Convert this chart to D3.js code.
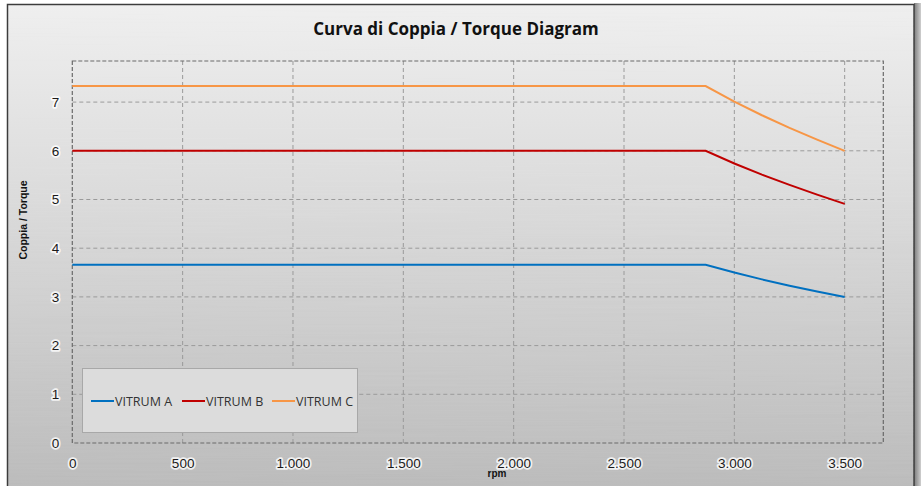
<!DOCTYPE html>
<html>
<head>
<meta charset="utf-8">
<script src="https://cdn.jsdelivr.net/npm/d3@7"></script>
<style>
  html, body { margin: 0; padding: 0; background: #fff; }
  svg { display: block; }
  .tick-label { font-family: "Liberation Sans", Arial, sans-serif; font-size: 13.5px; fill: #1a1a1a;
    paint-order: stroke; stroke: #fff; stroke-width: 3.5px; stroke-opacity: 0.8; stroke-linejoin: round; }
</style>
</head>
<body>
<svg id="chart"></svg>
<script>
// data
const rpm = [0, 2870, 3000, 3125, 3250, 3375, 3500];
const vitrumA = [3.66, 3.66, 3.50, 3.36, 3.23, 3.11, 3.00];
const vitrumB = [6.00, 6.00, 5.74, 5.51, 5.30, 5.10, 4.91];
const vitrumC = [7.33, 7.33, 7.01, 6.73, 6.47, 6.23, 6.00];
const seriesNames = ["VITRUM A", "VITRUM B", "VITRUM C"];
const seriesColors = ["#0070c0", "#c00000", "#f79646"];
const xTicks = [0, 500, 1000, 1500, 2000, 2500, 3000, 3500];
const yTicks = [0, 1, 2, 3, 4, 5, 6, 7];

const width = 921;
const height = 486;
const plot = { left: 72.3, right: 883.3, top: 61, bottom: 443 };

const svg = d3.select("#chart")
  .attr("width", width)
  .attr("height", height);

const defs = svg.append("defs");
const bg = defs.append("linearGradient")
  .attr("id", "bg").attr("x1", 0).attr("y1", 0).attr("x2", 0).attr("y2", 1);
bg.append("stop").attr("offset", "0%").attr("stop-color", "#eeeeee");
bg.append("stop").attr("offset", "40%").attr("stop-color", "#dadada");
bg.append("stop").attr("offset", "100%").attr("stop-color", "#b9b9b9");

const shade = defs.append("linearGradient")
  .attr("id", "shade").attr("x1", 0).attr("y1", 0).attr("x2", 1).attr("y2", 0);
shade.append("stop").attr("offset", "0%").attr("stop-color", "#7a7a7a");
shade.append("stop").attr("offset", "100%").attr("stop-color", "#cfcfcf");

// brushed metal streaks
const noise = defs.append("filter").attr("id", "brush")
  .attr("x", 0).attr("y", 0).attr("width", 1).attr("height", 1);
noise.append("feTurbulence").attr("type", "fractalNoise")
  .attr("baseFrequency", "0.004 0.6").attr("numOctaves", 2).attr("seed", 4).attr("result", "n");
noise.append("feColorMatrix").attr("type", "matrix")
  .attr("values", "0 0 0 0 1  0 0 0 0 1  0 0 0 0 1  0 0 0 0.07 0").attr("in", "n");

// frame
svg.append("rect")
  .attr("x", 914).attr("y", 3).attr("width", 7).attr("height", height)
  .attr("fill", "url(#shade)");
svg.append("rect")
  .attr("x", 7.5).attr("y", 4.5).attr("width", 906.5).attr("height", height)
  .attr("fill", "url(#bg)")
  .attr("stroke", "#3c3c3c").attr("stroke-width", 1.5);
svg.append("rect")
  .attr("x", 8.5).attr("y", 5.5).attr("width", 905).attr("height", height)
  .attr("filter", "url(#brush)").attr("fill", "#fff");

const x = d3.scaleLinear()
  .domain([0, 3675])
  .range([plot.left, plot.right]);

const y = d3.scaleLinear()
  .domain([0, 7.844])
  .range([plot.bottom, plot.top]);

const fmt = v => d3.format(",")(v).replace(/,/g, ".");

// grid
const grid = svg.append("g").attr("stroke", "#9a9a9a").attr("stroke-dasharray", "4,3").attr("stroke-width", 1);
grid.selectAll(".gx")
  .data(xTicks.filter(d => d > 0))
  .enter().append("line")
  .attr("x1", d => x(d)).attr("x2", d => x(d))
  .attr("y1", plot.top).attr("y2", plot.bottom);
grid.selectAll(".gy")
  .data(yTicks.filter(d => d > 0))
  .enter().append("line")
  .attr("x1", plot.left).attr("x2", plot.right)
  .attr("y1", d => y(d)).attr("y2", d => y(d));

svg.append("rect")
  .attr("x", plot.left).attr("y", plot.top)
  .attr("width", plot.right - plot.left).attr("height", plot.bottom - plot.top)
  .attr("fill", "none").attr("stroke", "#6a6a6a").attr("stroke-width", 1.2)
  .attr("stroke-dasharray", "4,2");

// axes (labels only, lines are the grid/border)
const xAxis = svg.append("g")
  .attr("transform", `translate(0,${plot.bottom})`)
  .call(d3.axisBottom(x).tickValues(xTicks).tickFormat(fmt).tickSize(0).tickPadding(15));
xAxis.select(".domain").remove();
xAxis.selectAll("text").attr("class", "tick-label").attr("font-family", null).attr("font-size", null).attr("fill", null);

const yAxis = svg.append("g")
  .attr("transform", `translate(${plot.left},0)`)
  .call(d3.axisLeft(y).tickValues(yTicks).tickFormat(d3.format("d")).tickSize(0).tickPadding(13));
yAxis.select(".domain").remove();
yAxis.selectAll("text").attr("class", "tick-label").attr("font-family", null).attr("font-size", null).attr("fill", null);

// series
const seriesValues = [vitrumA, vitrumB, vitrumC];
const line = d3.line()
  .x((d, i) => x(rpm[i]))
  .y(d => y(d));

svg.append("g").selectAll("path")
  .data(seriesValues)
  .enter().append("path")
  .attr("d", line)
  .attr("fill", "none")
  .attr("stroke", (d, i) => seriesColors[i])
  .attr("stroke-width", 2);

// legend
const legend = svg.append("g");
legend.append("rect")
  .attr("x", 82.5).attr("y", 368.5).attr("width", 275).attr("height", 64)
  .attr("fill", "#dcdcdc").attr("stroke", "#a8a8a8");
const legendX = [91, 182, 272];
const item = legend.selectAll(".item")
  .data(seriesNames)
  .enter().append("g")
  .attr("transform", (d, i) => `translate(${legendX[i]},401)`);
item.append("line")
  .attr("x1", 0).attr("x2", 23)
  .attr("stroke", (d, i) => seriesColors[i]).attr("stroke-width", 2);
item.append("text")
  .attr("x", 24).attr("dy", "0.36em")
  .attr("font-family", "'Open Sans', sans-serif").attr("font-size", 12.5)
  .attr("fill", "#333")
  .text(d => d);

// titles
svg.append("text")
  .attr("x", 456).attr("y", 35)
  .attr("text-anchor", "middle")
  .attr("font-family", "'Open Sans', sans-serif").attr("font-weight", "bold").attr("font-size", 17)
  .attr("fill", "#111")
  .text("Curva di Coppia / Torque Diagram");

svg.append("text")
  .attr("transform", "translate(27,220) rotate(-90)")
  .attr("text-anchor", "middle")
  .attr("font-family", "'Liberation Sans', Arial, sans-serif").attr("font-weight", "bold").attr("font-size", 10.5)
  .attr("fill", "#111")
  .text("Coppia / Torque");

svg.append("text")
  .attr("x", 497).attr("y", 477)
  .attr("text-anchor", "middle")
  .attr("font-family", "'Liberation Sans', Arial, sans-serif").attr("font-weight", "bold").attr("font-size", 10)
  .attr("fill", "#111")
  .text("rpm");
</script>
</body>
</html>
